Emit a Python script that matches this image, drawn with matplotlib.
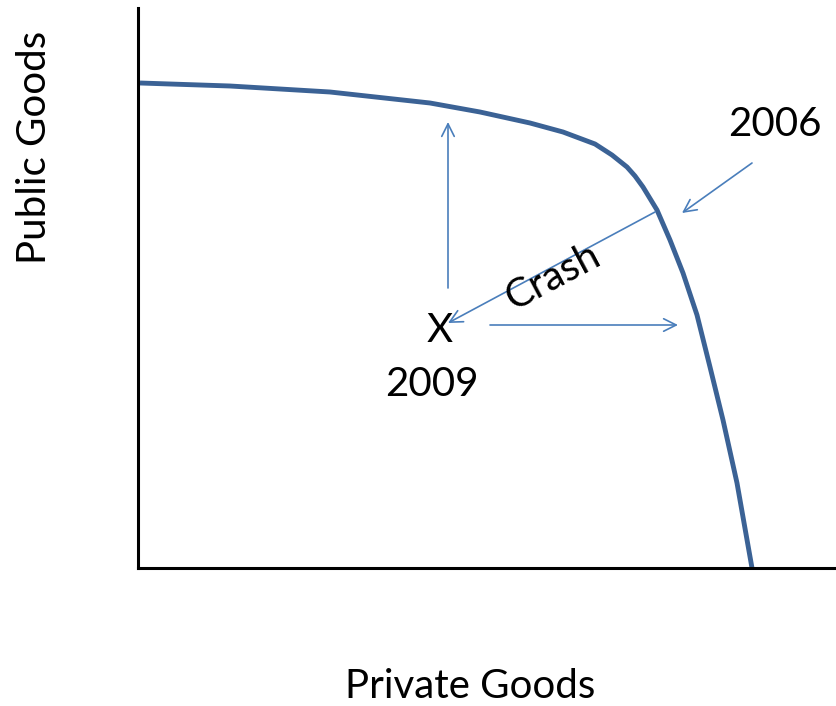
import matplotlib.pyplot as plt
import numpy as np

plt.rcParams['font.family'] = ['Lato', 'DejaVu Sans']

# production possibility frontier (private goods, public goods)
ppf_x = [2, 92, 192, 292, 342, 392, 425, 457, 474, 489, 497, 505, 519,
         532, 545, 559, 572, 585, 599, 614]
ppf_y = [485, 482, 476, 465, 456, 445, 436, 424, 413, 401, 392, 381, 358,
         328, 295, 253, 201, 148, 85, 0]

# arrows: (start, end)
arrows = [
    ((310, 280), (310, 446)),   # up from X
    ((517, 356), (310, 245)),   # crash
    ((352, 243), (540, 243)),   # right from X
    ((614, 405), (544, 355)),   # 2006 pointer
]

curve_color = '#3b6295'
arrow_color = '#4a7ebb'

fig = plt.figure(figsize=(8.36, 7.06), dpi=100)
ax = fig.add_axes([138 / 836, 138 / 706, 698 / 836, 560 / 706])
ax.set_xlim(0, 698)
ax.set_ylim(0, 560)
for s in ['top', 'right']:
    ax.spines[s].set_visible(False)
for s in ['left', 'bottom']:
    ax.spines[s].set_linewidth(2.2)
ax.set_xticks([])
ax.set_yticks([])

ax.plot(ppf_x, ppf_y, color=curve_color, lw=3.5, solid_capstyle='butt',
        solid_joinstyle='round', clip_on=False)

for (x0, y0), (x1, y1) in arrows:
    ax.annotate('', xy=(x1, y1), xytext=(x0, y0),
                arrowprops=dict(arrowstyle='->,head_length=0.9,head_width=0.45',
                                color=arrow_color, lw=1.2,
                                shrinkA=0, shrinkB=0))

ax.text(637, 443, '2006', fontsize=29, ha='center', va='center')
ax.text(302, 238, 'X', fontsize=29, ha='center', va='center')
ax.text(294, 183, '2009', fontsize=29, ha='center', va='center')
ax.text(415, 291, 'Crash', fontsize=29, ha='center', va='center', rotation=28)

fig.text(470 / 836, 1 - 686 / 706, 'Private Goods', fontsize=29,
         ha='center', va='center')
fig.text(35 / 836, 1 - 147 / 706, 'Public Goods', fontsize=29,
         ha='center', va='center', rotation=90)

fig.savefig('out.png', dpi=100)
